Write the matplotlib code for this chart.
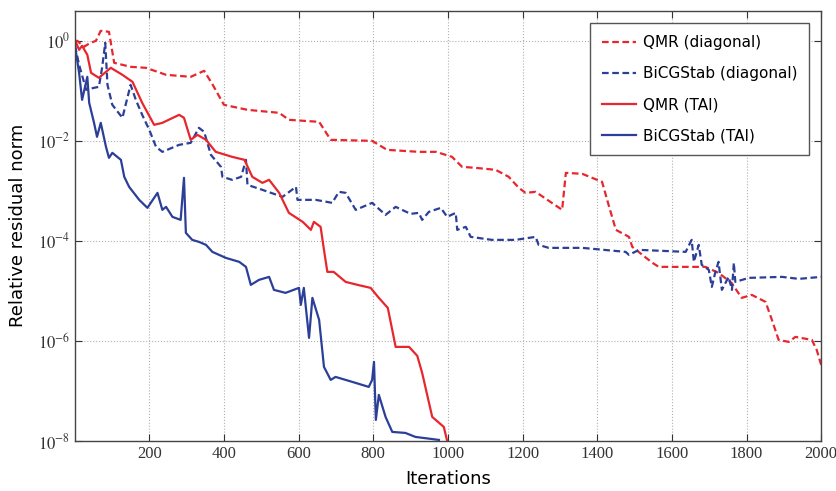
#!/usr/bin/env python3
import matplotlib
matplotlib.use('Agg')
import matplotlib.pyplot as plt
import numpy as np
from matplotlib.ticker import FixedLocator, NullLocator

# values, y as log10 of the residual
qmr_diag_x = [1, 7, 25, 40, 57, 70, 92, 106, 150, 191, 245, 311, 347, 370, 400, 463, 548, 574, 655, 686,
              797, 837, 922, 968, 1011, 1038, 1074, 1128, 1163, 1190, 1208, 1235, 1306, 1316, 1360, 1413, 1432, 1450, 1485, 1494,
              1548, 1565, 1690, 1725, 1760, 1787, 1814, 1851, 1868, 1886, 1913, 1931, 1975, 1988, 2000]
qmr_diag_log = [0.0, 0.0, -0.12, -0.05, 0.0, 0.2, 0.18, -0.44, -0.52, -0.54, -0.68, -0.72, -0.6, -0.88, -1.28, -1.38, -1.44, -1.58, -1.62, -1.98,
                -2.0, -2.18, -2.22, -2.22, -2.32, -2.52, -2.54, -2.58, -2.72, -2.94, -3.04, -3.02, -3.38, -2.64, -2.66, -2.82, -3.32, -3.78, -3.92, -4.12,
                -4.44, -4.52, -4.52, -4.64, -4.84, -5.14, -5.08, -5.22, -5.58, -5.98, -6.02, -5.92, -5.98, -6.18, -6.48]

bicg_diag_x = [1, 12, 31, 52, 65, 74, 82, 88, 101, 128, 150, 164, 181, 200, 218, 235, 280, 311, 333, 347,
               365, 392, 396, 422, 446, 459, 463, 503, 557, 593, 597, 646, 690, 708, 726, 753, 797, 833, 860, 900,
               922, 931, 949, 981, 998, 1021, 1025, 1048, 1061, 1118, 1181, 1235, 1243, 1270, 1360, 1476, 1485, 1512, 1637, 1653,
               1659, 1672, 1680, 1699, 1707, 1716, 1725, 1734, 1752, 1761, 1766, 1770, 1806, 1895, 1940, 2000]
bicg_diag_log = [-0.1, -0.48, -0.98, -0.94, -0.92, -0.52, -0.04, -0.88, -1.28, -1.54, -0.88, -1.18, -1.48, -1.78, -2.12, -2.22, -2.08, -2.04, -1.74, -1.82,
                 -2.28, -2.52, -2.72, -2.78, -2.72, -2.38, -2.88, -2.98, -3.12, -2.92, -3.18, -3.18, -3.24, -3.02, -3.04, -3.38, -3.24, -3.48, -3.32, -3.46,
                 -3.44, -3.58, -3.42, -3.34, -3.52, -3.44, -3.78, -3.72, -3.92, -3.98, -3.98, -3.92, -4.08, -4.14, -4.14, -4.22, -4.28, -4.18, -4.22, -3.98,
                 -4.42, -4.08, -4.48, -4.58, -4.92, -4.64, -4.42, -4.98, -4.72, -4.98, -4.44, -4.82, -4.74, -4.72, -4.76, -4.72]

qmr_tai_x = [1, 4, 12, 20, 34, 44, 65, 84, 97, 128, 155, 181, 213, 235, 280, 293, 311, 329, 352, 378,
             422, 455, 476, 503, 521, 548, 574, 611, 633, 641, 659, 668, 677, 694, 726, 758, 793, 815, 839, 860,
             896, 918, 931, 958, 989, 998]
qmr_tai_log = [-0.05, -0.04, -0.18, -0.1, -0.28, -0.64, -0.74, -0.62, -0.54, -0.68, -0.82, -1.24, -1.68, -1.64, -1.48, -1.54, -1.98, -1.88, -1.98, -2.22,
               -2.32, -2.38, -2.72, -2.84, -2.78, -3.04, -3.44, -3.62, -3.78, -3.62, -3.72, -4.18, -4.62, -4.62, -4.82, -4.88, -4.94, -5.14, -5.34, -6.12,
               -6.12, -6.3, -6.64, -7.52, -7.72, -8.0]

bicg_tai_x = [1, 12, 20, 34, 39, 52, 60, 70, 84, 92, 101, 124, 133, 146, 173, 195, 222, 235, 245, 262,
              284, 293, 298, 315, 333, 352, 369, 405, 441, 459, 472, 494, 521, 534, 565, 601, 606, 614, 628, 637,
              655, 668, 686, 699, 744, 788, 797, 802, 807, 815, 833, 851, 886, 913, 976]
bicg_tai_log = [-0.1, -0.64, -1.18, -0.72, -1.24, -1.64, -1.92, -1.64, -2.12, -2.34, -2.24, -2.38, -2.72, -2.92, -3.18, -3.34, -3.04, -3.38, -3.32, -3.52,
                -3.58, -2.74, -3.84, -3.98, -4.02, -4.08, -4.22, -4.34, -4.42, -4.52, -4.88, -4.78, -4.72, -4.98, -5.04, -4.94, -5.28, -4.94, -5.94, -5.14,
                -5.58, -6.52, -6.78, -6.72, -6.82, -6.92, -6.78, -6.42, -7.58, -7.08, -7.52, -7.82, -7.84, -7.92, -7.98]

labels = ['QMR (diagonal)', 'BiCGStab (diagonal)', 'QMR (TAI)', 'BiCGStab (TAI)']
x_ticks = [200, 400, 600, 800, 1000, 1200, 1400, 1600, 1800, 2000]
y_ticks = [1e-8, 1e-6, 1e-4, 1e-2, 1e0]

RED = '#e8262e'
BLUE = '#2c3f98'

plt.rcParams['font.family'] = 'DejaVu Sans'
plt.rcParams['mathtext.fontset'] = 'stix'

fig = plt.figure(figsize=(8.37, 4.91), dpi=100)
ax = fig.add_axes([0.0896, 0.102, 0.8915, 0.876])

dash = (0, (3, 1.6))
ax.plot(qmr_diag_x, 10 ** np.array(qmr_diag_log), color=RED, lw=1.6, linestyle=dash, label=labels[0])
ax.plot(bicg_diag_x, 10 ** np.array(bicg_diag_log), color=BLUE, lw=1.6, linestyle=dash, label=labels[1])
ax.plot(qmr_tai_x, 10 ** np.array(qmr_tai_log), color=RED, lw=1.6, label=labels[2])
ax.plot(bicg_tai_x, 10 ** np.array(bicg_tai_log), color=BLUE, lw=1.6, label=labels[3])

ax.set_yscale('log')
ax.set_xlim(1, 2000)
ax.set_ylim(1e-8, 10 ** 0.6)

ax.xaxis.set_major_locator(FixedLocator(x_ticks))
ax.yaxis.set_major_locator(FixedLocator(y_ticks))
ax.yaxis.set_minor_locator(NullLocator())
ax.set_xticklabels([str(t) for t in x_ticks], family='Liberation Serif', fontsize=12)
ax.set_yticklabels([r'$10^{%d}$' % int(np.log10(t)) for t in y_ticks], fontsize=12)

ax.tick_params(direction='in', top=True, right=True, length=5, width=0.8, colors='#333333')
ax.grid(True, linestyle=':', color='#b0b0b0', linewidth=0.8)
for s in ax.spines.values():
  s.set_color('#444444')
  s.set_linewidth(1.0)

ax.set_xlabel('Iterations', fontsize=13, labelpad=6)
ax.set_ylabel('Relative residual norm', fontsize=13, labelpad=8)

leg = ax.legend(loc='upper right', bbox_to_anchor=(0.984, 0.972), borderaxespad=0, fontsize=11,
                handlelength=2.2, handletextpad=0.45, labelspacing=1.05, borderpad=0.8,
                fancybox=False, framealpha=1)
leg.get_frame().set_edgecolor('#555555')
leg.get_frame().set_linewidth(1.0)

fig.savefig('out.png', dpi=100)
